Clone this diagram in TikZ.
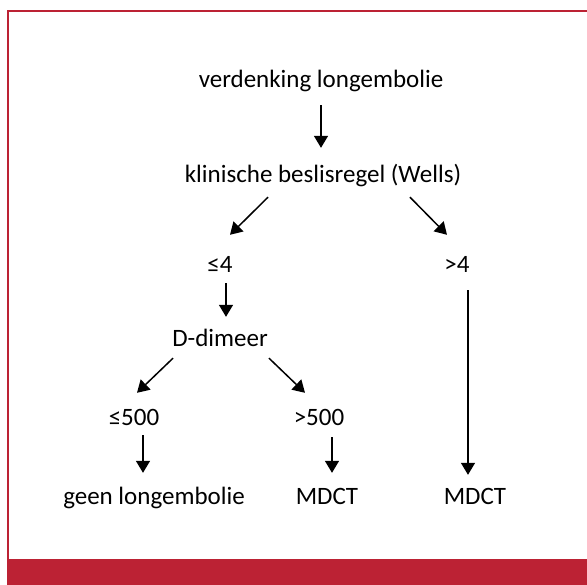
\documentclass[tikz,border=0pt]{standalone}
\usepackage{fontspec}
\setmainfont{Carlito}
\usepackage{tikz}
\usetikzlibrary{arrows.meta}
\definecolor{kaderrood}{RGB}{188,34,52}

\begin{document}
\begin{tikzpicture}[x=1pt,y=1pt]
    \tikzstyle{txt} = [inner sep=0pt, anchor=base, text height=17pt, text depth=5pt, font=\fontsize{25}{29}\selectfont]
\tikzstyle{arrow} = [line width=1.5pt, -{Triangle[width=14pt,length=12pt]}]
\tikzstyle{kader} = [kaderrood, line width=2.3pt]
    \useasboundingbox (0,0) rectangle (587,-585);
\fill[kaderrood] (7,-559) rectangle (587,-585);
\draw[kader] (8,-559) -- (8,-11) -- (587,-11);

\node (susp) [txt] at (321,-88) {verdenking longembolie};
\node (wells) [txt] at (323,-183) {klinische beslisregel (Wells)};
\node (le4) [txt] at (220,-273) {≤4};
\node (gt4) [txt] at (457,-273) {>4};
\node (ddim) [txt] at (220,-347) {D-dimeer};
\node (le500) [txt] at (134,-426) {≤500};
\node (gt500) [txt] at (319,-426) {>500};
\node (none) [txt] at (154,-504) {geen longembolie};
\node (mdct1) [txt] at (327,-504) {MDCT};
\node (mdct2) [txt] at (475,-504) {MDCT};

\draw[arrow] ([yshift=-12pt]susp.south) -- ([yshift=18pt]susp.south |- wells.north);
\draw[arrow] ([xshift=-55pt,yshift=-9pt]wells.south) -- ([xshift=10pt,yshift=21pt]le4.north);
\draw[arrow] ([xshift=87pt,yshift=-9pt]wells.south) -- ([xshift=-10pt,yshift=21pt]gt4.north);
\draw[arrow] ([xshift=6pt,yshift=-5pt]le4.south) -- ([xshift=6pt,yshift=13pt]le4.south |- ddim.north);

\draw[arrow] ([xshift=-47pt,yshift=-6pt]ddim.south) -- ([xshift=3pt,yshift=16pt]le500.north);
\draw[arrow] ([xshift=49pt,yshift=-6pt]ddim.south) -- ([xshift=-14pt,yshift=16pt]gt500.north);
\draw[arrow] ([xshift=9pt,yshift=-4pt]le500.south) -- ([xshift=9pt,yshift=14pt]le500.south |- none.north);
\draw[arrow] ([xshift=13pt,yshift=-6pt]gt500.south) -- ([xshift=13pt,yshift=14pt]gt500.south |- mdct1.north);
\draw[arrow] ([xshift=11pt,yshift=-12pt]gt4.south) -- ([xshift=11pt,yshift=12pt]gt4.south |- mdct2.north);
  \end{tikzpicture}
\end{document}
